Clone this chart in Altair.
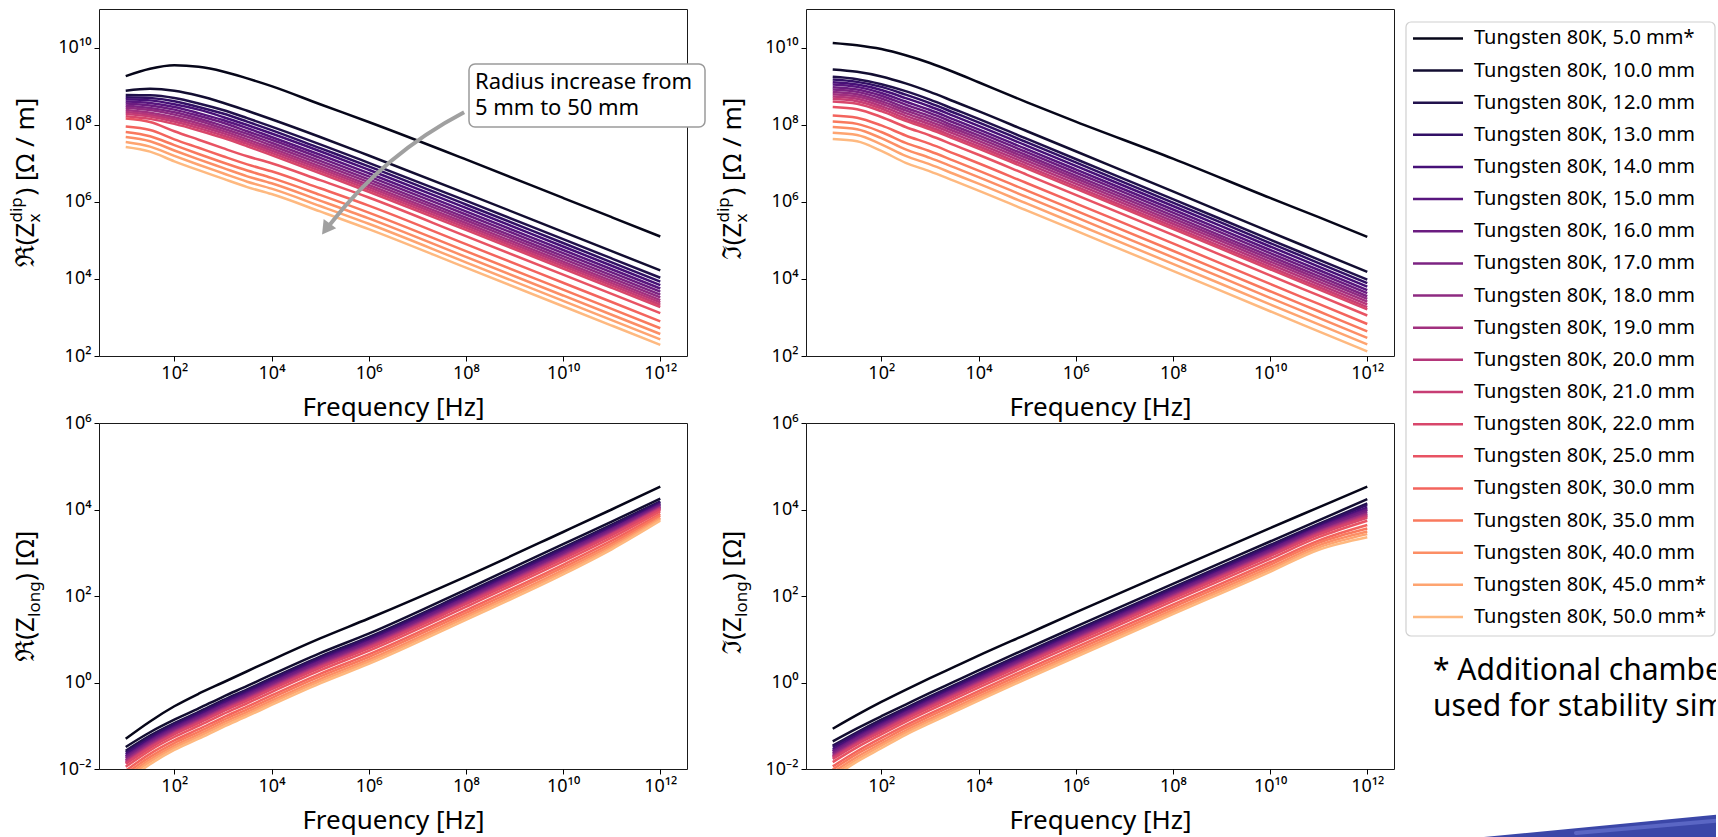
import altair as alt
import pandas as pd

# ---------------- data ----------------
radii_mm = [5.0, 10.0, 12.0, 13.0, 14.0, 15.0, 16.0, 17.0, 18.0, 19.0,
            20.0, 21.0, 22.0, 25.0, 30.0, 35.0, 40.0, 45.0, 50.0]
starred_radii_mm = [5.0, 45.0, 50.0]
series_labels = [f"Tungsten 80K, {r:.1f} mm" for r in radii_mm]
legend_labels = [s + ("*" if r in starred_radii_mm else "") for s, r in zip(series_labels, radii_mm)]

# frequency sample points, log10(f / Hz)
log10_freq_hz = [1, 1.5, 2, 2.5, 3, 3.5, 4, 5, 6, 8, 10, 11, 12]

# log10 of Re(Zx dip) [Ohm/m], one row per radius
re_zx_dip_log10 = [
    [9.26, 9.45, 9.54, 9.50, 9.38, 9.20, 9.00, 8.53, 8.07, 7.10, 6.10, 5.60, 5.10],
    [8.88, 8.93, 8.88, 8.75, 8.57, 8.36, 8.14, 7.68, 7.20, 6.22, 5.22, 4.72, 4.22],
    [8.77, 8.76, 8.69, 8.55, 8.38, 8.17, 7.95, 7.49, 7.01, 6.03, 5.03, 4.53, 4.03],
    [8.71, 8.69, 8.61, 8.46, 8.29, 8.08, 7.86, 7.39, 6.92, 5.93, 4.93, 4.43, 3.93],
    [8.66, 8.63, 8.53, 8.39, 8.20, 7.99, 7.77, 7.31, 6.83, 5.84, 4.84, 4.34, 3.84],
    [8.60, 8.56, 8.46, 8.30, 8.12, 7.91, 7.68, 7.22, 6.74, 5.75, 4.75, 4.25, 3.75],
    [8.55, 8.50, 8.39, 8.23, 8.05, 7.83, 7.61, 7.14, 6.66, 5.67, 4.67, 4.17, 3.67],
    [8.49, 8.43, 8.32, 8.16, 7.97, 7.76, 7.53, 7.06, 6.58, 5.59, 4.59, 4.09, 3.59],
    [8.44, 8.38, 8.26, 8.10, 7.90, 7.69, 7.46, 6.99, 6.51, 5.52, 4.52, 4.02, 3.52],
    [8.38, 8.31, 8.19, 8.03, 7.84, 7.62, 7.39, 6.92, 6.44, 5.45, 4.45, 3.95, 3.45],
    [8.33, 8.26, 8.14, 7.97, 7.78, 7.56, 7.33, 6.86, 6.38, 5.39, 4.39, 3.89, 3.39],
    [8.28, 8.21, 8.08, 7.91, 7.72, 7.50, 7.27, 6.80, 6.32, 5.33, 4.33, 3.83, 3.33],
    [8.22, 8.15, 8.02, 7.85, 7.66, 7.44, 7.21, 6.74, 6.26, 5.27, 4.27, 3.77, 3.27],
    [8.16, 8.07, 7.83, 7.61, 7.39, 7.18, 7.00, 6.56, 6.11, 5.11, 4.11, 3.61, 3.11],
    [7.95, 7.86, 7.62, 7.40, 7.18, 6.97, 6.79, 6.35, 5.90, 4.90, 3.90, 3.40, 2.90],
    [7.81, 7.70, 7.47, 7.24, 7.02, 6.81, 6.62, 6.18, 5.72, 4.72, 3.72, 3.22, 2.72],
    [7.68, 7.57, 7.33, 7.10, 6.88, 6.66, 6.48, 6.03, 5.57, 4.57, 3.57, 3.07, 2.57],
    [7.55, 7.43, 7.19, 6.96, 6.74, 6.52, 6.34, 5.89, 5.43, 4.43, 3.43, 2.93, 2.43],
    [7.42, 7.30, 7.05, 6.82, 6.60, 6.38, 6.20, 5.75, 5.29, 4.29, 3.29, 2.79, 2.29],
]

# log10 of Im(Zx dip) [Ohm/m]
im_zx_dip_log10 = [
    [10.12, 10.06, 9.96, 9.80, 9.60, 9.36, 9.10, 8.58, 8.08, 7.12, 6.10, 5.60, 5.09],
    [9.43, 9.37, 9.25, 9.07, 8.85, 8.60, 8.35, 7.83, 7.31, 6.27, 5.22, 4.70, 4.18],
    [9.24, 9.18, 9.05, 8.87, 8.65, 8.40, 8.15, 7.63, 7.11, 6.07, 5.02, 4.50, 3.98],
    [9.17, 9.11, 8.98, 8.78, 8.56, 8.31, 8.06, 7.54, 7.02, 5.98, 4.93, 4.41, 3.89],
    [9.10, 9.04, 8.90, 8.69, 8.47, 8.22, 7.97, 7.45, 6.93, 5.89, 4.84, 4.32, 3.80],
    [9.04, 8.98, 8.82, 8.60, 8.38, 8.13, 7.88, 7.36, 6.84, 5.80, 4.75, 4.23, 3.71],
    [8.97, 8.91, 8.75, 8.52, 8.30, 8.05, 7.80, 7.28, 6.76, 5.72, 4.67, 4.15, 3.63],
    [8.91, 8.85, 8.68, 8.44, 8.22, 7.97, 7.72, 7.20, 6.68, 5.64, 4.59, 4.07, 3.55],
    [8.85, 8.79, 8.61, 8.37, 8.15, 7.90, 7.65, 7.13, 6.61, 5.57, 4.52, 4.00, 3.48],
    [8.79, 8.73, 8.55, 8.30, 8.08, 7.83, 7.58, 7.06, 6.54, 5.50, 4.45, 3.93, 3.41],
    [8.73, 8.67, 8.48, 8.23, 8.01, 7.76, 7.51, 6.99, 6.47, 5.43, 4.38, 3.86, 3.34],
    [8.67, 8.61, 8.42, 8.16, 7.94, 7.69, 7.44, 6.92, 6.40, 5.36, 4.31, 3.79, 3.27],
    [8.60, 8.54, 8.35, 8.10, 7.88, 7.63, 7.38, 6.86, 6.34, 5.30, 4.25, 3.73, 3.21],
    [8.46, 8.40, 8.20, 7.94, 7.72, 7.47, 7.22, 6.70, 6.18, 5.14, 4.09, 3.57, 3.05],
    [8.24, 8.18, 7.98, 7.72, 7.50, 7.25, 7.00, 6.48, 5.96, 4.92, 3.87, 3.35, 2.83],
    [8.08, 8.02, 7.81, 7.53, 7.31, 7.06, 6.81, 6.29, 5.77, 4.73, 3.68, 3.16, 2.64],
    [7.94, 7.88, 7.65, 7.36, 7.14, 6.89, 6.64, 6.12, 5.60, 4.56, 3.51, 2.99, 2.47],
    [7.79, 7.73, 7.49, 7.19, 6.97, 6.72, 6.47, 5.95, 5.43, 4.39, 3.34, 2.82, 2.30],
    [7.63, 7.57, 7.32, 7.01, 6.79, 6.54, 6.29, 5.77, 5.25, 4.21, 3.16, 2.64, 2.12],
]

# log10 of Re(Z long) [Ohm]
re_zlong_log10 = [
    [-1.30, -0.90, -0.55, -0.26, 0.00, 0.26, 0.52, 1.02, 1.48, 2.45, 3.48, 4.00, 4.53],
    [-1.49, -1.15, -0.86, -0.60, -0.33, -0.08, 0.18, 0.68, 1.13, 2.15, 3.20, 3.72, 4.25],
    [-1.58, -1.23, -0.94, -0.68, -0.41, -0.16, 0.10, 0.60, 1.05, 2.07, 3.12, 3.65, 4.19],
    [-1.62, -1.27, -0.97, -0.71, -0.44, -0.19, 0.07, 0.57, 1.02, 2.04, 3.09, 3.62, 4.17],
    [-1.66, -1.31, -1.01, -0.75, -0.48, -0.23, 0.03, 0.53, 0.98, 2.00, 3.05, 3.58, 4.14],
    [-1.70, -1.34, -1.04, -0.78, -0.51, -0.26, 0.00, 0.50, 0.95, 1.97, 3.02, 3.55, 4.12],
    [-1.72, -1.36, -1.06, -0.80, -0.53, -0.28, -0.02, 0.48, 0.93, 1.95, 3.00, 3.54, 4.10],
    [-1.75, -1.39, -1.09, -0.83, -0.56, -0.31, -0.05, 0.45, 0.90, 1.92, 2.97, 3.51, 4.08],
    [-1.79, -1.42, -1.12, -0.86, -0.59, -0.34, -0.08, 0.42, 0.87, 1.89, 2.94, 3.48, 4.06],
    [-1.81, -1.44, -1.14, -0.88, -0.61, -0.36, -0.10, 0.40, 0.85, 1.87, 2.92, 3.46, 4.05],
    [-1.84, -1.47, -1.16, -0.90, -0.63, -0.38, -0.12, 0.38, 0.83, 1.85, 2.90, 3.44, 4.03],
    [-1.86, -1.49, -1.18, -0.92, -0.65, -0.40, -0.14, 0.36, 0.81, 1.83, 2.88, 3.43, 4.02],
    [-1.88, -1.51, -1.20, -0.94, -0.67, -0.42, -0.16, 0.34, 0.79, 1.81, 2.86, 3.41, 4.00],
    [-1.95, -1.57, -1.26, -1.00, -0.73, -0.48, -0.22, 0.28, 0.73, 1.75, 2.80, 3.35, 3.96],
    [-2.04, -1.65, -1.34, -1.08, -0.81, -0.56, -0.30, 0.20, 0.65, 1.67, 2.72, 3.28, 3.90],
    [-2.11, -1.72, -1.40, -1.14, -0.87, -0.62, -0.36, 0.14, 0.59, 1.61, 2.66, 3.22, 3.86],
    [-2.18, -1.78, -1.46, -1.20, -0.93, -0.68, -0.42, 0.08, 0.53, 1.55, 2.60, 3.17, 3.81],
    [-2.24, -1.83, -1.51, -1.25, -0.98, -0.73, -0.47, 0.03, 0.48, 1.50, 2.55, 3.12, 3.78],
    [-2.30, -1.89, -1.56, -1.30, -1.03, -0.78, -0.52, -0.02, 0.43, 1.45, 2.50, 3.08, 3.74],
]

# log10 of Im(Z long) [Ohm]
im_zlong_log10 = [
    [-1.07, -0.75, -0.45, -0.17, 0.10, 0.36, 0.62, 1.12, 1.62, 2.60, 3.57, 4.05, 4.53],
    [-1.36, -1.06, -0.78, -0.51, -0.24, 0.02, 0.28, 0.79, 1.29, 2.28, 3.26, 3.75, 4.24],
    [-1.46, -1.15, -0.86, -0.59, -0.32, -0.06, 0.20, 0.71, 1.21, 2.20, 3.18, 3.67, 4.14],
    [-1.49, -1.18, -0.90, -0.62, -0.35, -0.09, 0.17, 0.68, 1.18, 2.17, 3.15, 3.64, 4.10],
    [-1.54, -1.23, -0.94, -0.66, -0.39, -0.13, 0.13, 0.64, 1.14, 2.13, 3.11, 3.60, 4.05],
    [-1.58, -1.26, -0.97, -0.69, -0.42, -0.16, 0.10, 0.61, 1.11, 2.10, 3.08, 3.58, 4.01],
    [-1.60, -1.28, -0.99, -0.71, -0.44, -0.18, 0.08, 0.59, 1.09, 2.08, 3.06, 3.56, 3.99],
    [-1.64, -1.31, -1.02, -0.74, -0.47, -0.21, 0.05, 0.56, 1.06, 2.05, 3.03, 3.53, 3.95],
    [-1.67, -1.35, -1.05, -0.77, -0.50, -0.24, 0.02, 0.53, 1.03, 2.02, 3.00, 3.50, 3.91],
    [-1.70, -1.37, -1.07, -0.79, -0.52, -0.26, 0.00, 0.51, 1.01, 2.00, 2.98, 3.48, 3.89],
    [-1.72, -1.39, -1.10, -0.81, -0.54, -0.28, -0.02, 0.49, 0.99, 1.98, 2.96, 3.46, 3.86],
    [-1.74, -1.41, -1.12, -0.83, -0.56, -0.30, -0.04, 0.47, 0.97, 1.96, 2.94, 3.44, 3.84],
    [-1.77, -1.43, -1.14, -0.85, -0.58, -0.32, -0.06, 0.45, 0.95, 1.94, 2.92, 3.42, 3.81],
    [-1.84, -1.50, -1.20, -0.91, -0.64, -0.38, -0.12, 0.39, 0.89, 1.88, 2.86, 3.36, 3.74],
    [-1.94, -1.59, -1.28, -0.99, -0.72, -0.46, -0.20, 0.31, 0.81, 1.80, 2.78, 3.28, 3.64],
    [-2.01, -1.65, -1.35, -1.05, -0.78, -0.52, -0.26, 0.25, 0.75, 1.74, 2.72, 3.23, 3.56],
    [-2.08, -1.72, -1.41, -1.11, -0.84, -0.58, -0.32, 0.19, 0.69, 1.68, 2.66, 3.17, 3.49],
    [-2.14, -1.78, -1.46, -1.16, -0.89, -0.63, -0.37, 0.14, 0.64, 1.63, 2.61, 3.12, 3.43],
    [-2.20, -1.83, -1.52, -1.21, -0.94, -0.68, -0.42, 0.09, 0.59, 1.58, 2.56, 3.07, 3.36],
]

x_tick_exponents = [2, 4, 6, 8, 10, 12]
y_tick_exponents_dip = [2, 4, 6, 8, 10]
y_tick_exponents_long = [-2, 0, 2, 4, 6]

annotation_lines = ["Radius increase from", "5 mm to 50 mm"]
footnote_lines = ["* Additional chambers", "used for stability simulations"]

# ---------------- helpers ----------------
FONT = "Noto Sans"
SUP = {"0": "⁰", "1": "¹", "2": "²", "3": "³", "4": "⁴", "5": "⁵",
       "6": "⁶", "7": "⁷", "8": "⁸", "9": "⁹", "-": "⁻"}


def sup_label(n):
    return "10" + "".join(SUP[c] for c in str(n))


def label_expr(exps):
    e = "round(log(datum.value)/LN10)"
    expr = "''"
    for n in reversed(exps):
        expr = f"(({e}) == {n}) ? '{sup_label(n)}' : {expr}"
    return expr


def panel_frame(rows):
    recs = []
    for lab, row in zip(series_labels, rows):
        for lf, lv in zip(log10_freq_hz, row):
            recs.append({"label": lab, "freq": 10.0 ** lf, "value": 10.0 ** lv})
    return pd.DataFrame(recs)


ONE = pd.DataFrame({"k": [0]})


def text_at(txt, x, y, size, align="left", baseline="alphabetic", angle=None, color="black"):
    kw = dict(text=txt, fontSize=size, align=align, baseline=baseline, color=color, font=FONT)
    if angle is not None:
        kw["angle"] = angle
    return alt.Chart(ONE).mark_text(**kw).encode(x=alt.value(x), y=alt.value(y))


color_scale = alt.Scale(domain=series_labels,
                        scheme=alt.SchemeParams(name="magma", extent=[0, 0.9], count=len(series_labels)))

W = 588
H_TOP = 347
H_BOT = 346
X_DOMAIN = [10 ** 0.45, 10 ** 12.55]


def x_axis():
    return alt.Axis(values=[10.0 ** e for e in x_tick_exponents], labelExpr=label_expr(x_tick_exponents),
                    title="Frequency [Hz]", titleY=51, titleBaseline="middle",
                    labelFlush=False, labelOverlap=False)


def y_axis(exps):
    return alt.Axis(values=[10.0 ** e for e in exps], labelExpr=label_expr(exps), title=None,
                    labelFlush=False, labelOverlap=False)


def ytitle(h, head, scripts, tail, w_head, w_script, w_tail):
    total = w_head + w_script + w_tail
    p = h / 2 + total / 2 - w_head
    bx = -65
    layers = [text_at(head, bx, p, 26, align="right", angle=270)]
    for s, dx in scripts:
        layers.append(text_at(s, bx + dx, p, 17, align="left", angle=270))
    layers.append(text_at(tail, bx, p - w_script - 1, 26, align="left", angle=270))
    return layers


def panel(rows, ydom, yexps, h, head, scripts, tail, w_script, w_tail, extra=()):
    df = panel_frame(rows)
    lines = alt.Chart(df).mark_line(strokeWidth=2.5, clip=True, interpolate="monotone").encode(
        x=alt.X("freq:Q", scale=alt.Scale(type="log", domain=X_DOMAIN, nice=False), axis=x_axis()),
        y=alt.Y("value:Q", scale=alt.Scale(type="log", domain=ydom, nice=False), axis=y_axis(yexps)),
        color=alt.Color("label:O", scale=color_scale, legend=None),
    )
    layers = [lines] + list(extra) + ytitle(h, head, scripts, tail, 43, w_script, w_tail)
    return alt.layer(*layers).properties(width=W, height=h)


# annotation for the top-left panel
GRAY = "#a0a0a0"
ann_box = alt.Chart(ONE).mark_rect(fill="white", stroke="#9a9a9a", strokeWidth=1.5, cornerRadius=6).encode(
    x=alt.value(370), x2=alt.value(606), y=alt.value(55), y2=alt.value(118))
ann_t1 = text_at(annotation_lines[0], 376, 80, 22)
ann_t2 = text_at(annotation_lines[1], 376, 106, 22)
ann_arc = alt.Chart(ONE).mark_arc(innerRadius=411, outerRadius=415, theta=5.37, theta2=5.80,
                                  color=GRAY).encode(x=alt.value(557), y=alt.value(469))
ann_head = alt.Chart(ONE).mark_point(shape="triangle-up", filled=True, size=240, angle=216,
                                     color=GRAY, opacity=1).encode(x=alt.value(227), y=alt.value(220))

tl = panel(re_zx_dip_log10, [1e2, 1e11], y_tick_exponents_dip, H_TOP,
           "ℜ(Z", [("dip", -12), ("x", 6)], ") [Ω / m]", 26, 97,
           extra=[ann_box, ann_t1, ann_t2, ann_arc, ann_head])
tr = panel(im_zx_dip_log10, [1e2, 1e11], y_tick_exponents_dip, H_TOP,
           "ℑ(Z", [("dip", -12), ("x", 6)], ") [Ω / m]", 26, 97)
bl = panel(re_zlong_log10, [1e-2, 1e6], y_tick_exponents_long, H_BOT,
           "ℜ(Z", [("long", 6)], ") [Ω]", 35, 50)
br = panel(im_zlong_log10, [1e-2, 1e6], y_tick_exponents_long, H_BOT,
           "ℑ(Z", [("long", 6)], ") [Ω]", 35, 50)

# manual matplotlib-style legend + footnote (cell origin sits 107 px right of the legend box)
LX = -107
legend_df = pd.DataFrame({"label": series_labels, "text": legend_labels})
ly = alt.Y("label:O", scale=alt.Scale(type="point", domain=series_labels, range=[29.4, 608.0], padding=0),
           axis=None)
leg_box = alt.Chart(ONE).mark_rect(fill="white", stroke="#d0d0d0", strokeWidth=1.2, cornerRadius=5).encode(
    x=alt.value(LX), x2=alt.value(LX + 309), y=alt.value(13), y2=alt.value(627))
leg_rules = alt.Chart(legend_df).mark_rule(strokeWidth=2.5).encode(
    x=alt.value(LX + 7), x2=alt.value(LX + 57), y=ly,
    color=alt.Color("label:O", scale=color_scale, legend=None))
leg_text = alt.Chart(legend_df).mark_text(align="left", baseline="middle", fontSize=20, font=FONT,
                                          color="black").encode(x=alt.value(LX + 68), y=ly, text="text:N")
foot1 = text_at(footnote_lines[0], LX + 27, 671, 30)
foot2 = text_at(footnote_lines[1], LX + 27, 707, 30)
# blue brush stroke of the slide logo in the lower right corner (partly off the page)
brush1 = alt.Chart(ONE).mark_rule(color="#3b47a8", strokeWidth=24).encode(
    x=alt.value(LX + 68), x2=alt.value(LX + 330), y=alt.value(841), y2=alt.value(816))
brush2 = alt.Chart(ONE).mark_rule(color="#5a66c4", strokeWidth=4, strokeCap="round").encode(
    x=alt.value(LX + 170), x2=alt.value(LX + 330), y=alt.value(824), y2=alt.value(810))
legend = alt.layer(leg_box, leg_rules, leg_text, foot1, foot2, brush1, brush2).properties(
    width=100, height=H_TOP, view=alt.ViewBackground(strokeOpacity=0))

chart = alt.concat(tl, tr, legend, bl, br, columns=3, spacing={"row": 67, "column": 119},
                   bounds="flush").properties(
    autosize=alt.AutoSizeParams(type="none"),
    padding={"left": 99, "top": 9, "right": 1617, "bottom": 828},
    background="white",
).configure_view(
    stroke="#1a1a1a", strokeWidth=1
).configure_axis(
    labelFont=FONT, titleFont=FONT, labelFontSize=18, titleFontSize=26, titleFontWeight="normal",
    labelColor="black", titleColor="black", tickColor="black", tickSize=5, tickWidth=1,
    labelPadding=3, domain=False, grid=False
)

chart.save("out.html", embed_options={"renderer": "svg", "actions": False})
